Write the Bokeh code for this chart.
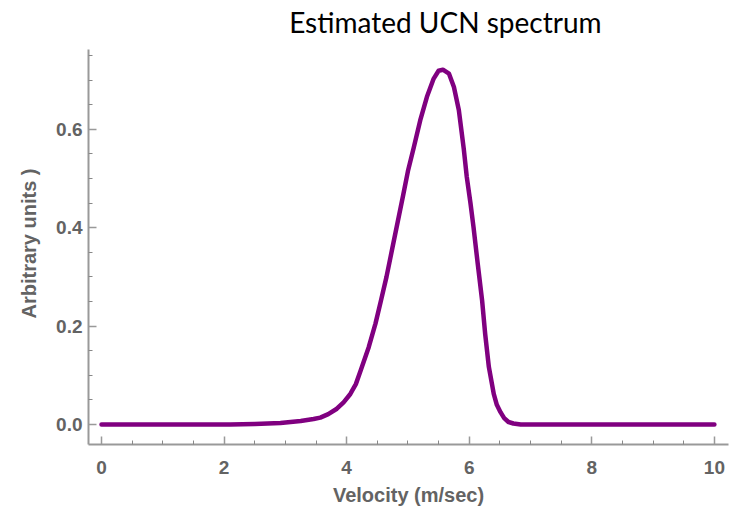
from bokeh.plotting import figure
from bokeh.models import FixedTicker, Range1d, Label, Title
from bokeh.embed import file_html
from bokeh.resources import INLINE

# Data
velocity = [0.0, 1.0, 2.1, 2.5, 2.92, 3.25, 3.46, 3.57, 3.70, 3.84, 3.95, 4.06,
            4.15, 4.23, 4.36, 4.47, 4.56, 4.65, 4.74, 4.83, 4.92, 5.00, 5.095,
            5.20, 5.31, 5.42, 5.50, 5.57, 5.67, 5.75, 5.83, 5.91, 5.96, 6.02,
            6.07, 6.14, 6.21, 6.26, 6.32, 6.40, 6.45, 6.51, 6.57, 6.64, 6.72,
            6.84, 7.0, 8.0, 10.0]
intensity = [0.0, 0.0, 0.0, 0.001, 0.003, 0.007, 0.011, 0.014, 0.021, 0.032,
             0.045, 0.062, 0.082, 0.110, 0.157, 0.205, 0.252, 0.300, 0.355,
             0.410, 0.465, 0.515, 0.563, 0.618, 0.666, 0.703, 0.719, 0.721,
             0.713, 0.686, 0.639, 0.561, 0.503, 0.450, 0.401, 0.325, 0.252,
             0.184, 0.117, 0.062, 0.040, 0.025, 0.013, 0.005, 0.002, 0.0, 0.0,
             0.0, 0.0]

x_major = [0, 2, 4, 6, 8, 10]
x_minor = [0.5, 1, 1.5, 2.5, 3, 3.5, 4.5, 5, 5.5, 6.5, 7, 7.5, 8.5, 9, 9.5]
y_major = [0.0, 0.2, 0.4, 0.6]
y_minor = [0.05, 0.1, 0.15, 0.25, 0.3, 0.35, 0.45, 0.5, 0.55, 0.65, 0.7, 0.75]
title_text = "Estimated UCN spectrum"
x_label = "Velocity (m/sec)"
y_label = "Arbitrary units )"

p = figure(width=732, height=511, output_backend="svg", toolbar_location=None,
           title=None,
           x_range=Range1d(-0.212, 10.23), y_range=Range1d(-0.0407, 0.8617),
           min_border_left=88, min_border_right=4, min_border_top=0,
           min_border_bottom=67)

title = Label(x=5.61, y=0.817, text=title_text, text_font="Lato",
              text_font_size="28px", text_color="#000000",
              text_align="center", text_baseline="middle")
p.add_layout(title)

ylab = Title(text=y_label, align="left", offset=126, vertical_align="middle",
             standoff=25, text_font="Liberation Sans", text_font_style="bold",
             text_font_size="20px", text_color="#636363")
p.add_layout(ylab, "left")

p.grid.visible = False
p.outline_line_color = None
p.background_fill_color = "white"
p.border_fill_color = "white"

p.line(velocity, intensity, line_color="#800080", line_width=4.5,
       line_join="round", line_cap="round")

for ax in (p.xaxis[0], p.yaxis[0]):
    ax.axis_line_color = "#999999"
    ax.axis_line_width = 2
    ax.major_tick_line_color = "#999999"
    ax.minor_tick_line_color = "#888888"
    ax.major_tick_line_width = 1.5
    ax.major_tick_in = 8
    ax.major_tick_out = 0
    ax.minor_tick_in = 4
    ax.minor_tick_out = 0
    ax.major_label_text_font = "Liberation Sans"
    ax.major_label_text_font_style = "bold"
    ax.major_label_text_font_size = "19px"
    ax.major_label_text_color = "#636363"
    ax.axis_label_text_font = "Liberation Sans"
    ax.axis_label_text_font_style = "bold"
    ax.axis_label_text_font_size = "20px"
    ax.axis_label_text_color = "#636363"

p.yaxis.bounds = (-0.0407, 0.762)
p.xaxis.ticker = FixedTicker(ticks=x_major, minor_ticks=x_minor)
p.yaxis.ticker = FixedTicker(ticks=y_major, minor_ticks=y_minor)
p.xaxis.axis_label = x_label
p.xaxis.major_label_standoff = 16
p.xaxis.axis_label_standoff = 7
p.yaxis.major_label_standoff = 6
p.yaxis.major_label_overrides = {0: "0.0", 0.2: "0.2", 0.4: "0.4", 0.6: "0.6"}

open("out.html", "w").write(file_html(p, INLINE))
